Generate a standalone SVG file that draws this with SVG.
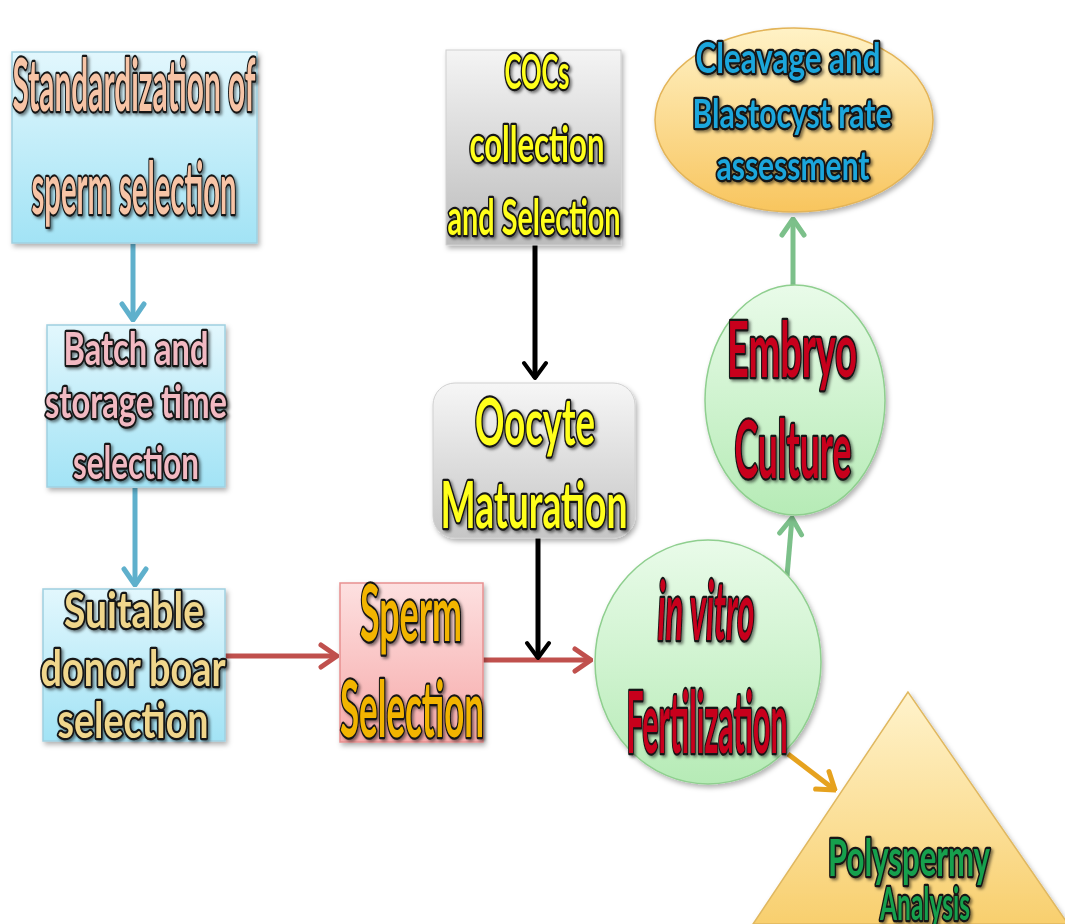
<svg xmlns="http://www.w3.org/2000/svg" width="1065" height="924" viewBox="0 0 1065 924">
<defs>
<linearGradient id="gBlue" x1="0" y1="0" x2="0" y2="1"><stop offset="0" stop-color="#e2f7fd"/><stop offset="1" stop-color="#a2e3f5"/></linearGradient>
<linearGradient id="gPink" x1="0" y1="0" x2="0" y2="1"><stop offset="0" stop-color="#fde0e0"/><stop offset="1" stop-color="#f6a9a9"/></linearGradient>
<linearGradient id="gGrey" x1="0" y1="0" x2="0" y2="1"><stop offset="0" stop-color="#f4f4f4"/><stop offset="1" stop-color="#bcbcbc"/></linearGradient>
<linearGradient id="gGrey2" x1="0" y1="0" x2="0" y2="1"><stop offset="0" stop-color="#f6f6f6"/><stop offset="1" stop-color="#c6c6c6"/></linearGradient>
<linearGradient id="gGreen" x1="0" y1="0" x2="0" y2="1"><stop offset="0" stop-color="#e9fbe9"/><stop offset="1" stop-color="#b6ebb6"/></linearGradient>
<linearGradient id="gGold" x1="0" y1="0" x2="0" y2="1"><stop offset="0" stop-color="#fff2c6"/><stop offset="1" stop-color="#f8c55e"/></linearGradient>
<linearGradient id="gTri" x1="0" y1="0" x2="0" y2="1"><stop offset="0" stop-color="#fff3cc"/><stop offset="1" stop-color="#f8cf6e"/></linearGradient>
<filter id="sh" x="-10%" y="-10%" width="130%" height="130%"><feDropShadow dx="2" dy="3" stdDeviation="2.5" flood-color="#000" flood-opacity="0.3"/></filter>
<filter id="tsh" x="-10%" y="-10%" width="130%" height="130%"><feDropShadow dx="2" dy="2" stdDeviation="1.5" flood-color="#000" flood-opacity="0.5"/></filter>
<marker id="aBlue" viewBox="-19 -14 21 28" refX="0" refY="0" markerWidth="21" markerHeight="28" markerUnits="userSpaceOnUse" orient="auto"><path d="M-16,-11 L0,0 L-16,11" fill="none" stroke="#5fb0cc" stroke-width="5" stroke-linecap="round" stroke-linejoin="round"/></marker>
<marker id="aRed" viewBox="-19 -14 21 28" refX="0" refY="0" markerWidth="21" markerHeight="28" markerUnits="userSpaceOnUse" orient="auto"><path d="M-16,-11 L0,0 L-16,11" fill="none" stroke="#c0504d" stroke-width="5" stroke-linecap="round" stroke-linejoin="round"/></marker>
<marker id="aBlack" viewBox="-19 -14 21 28" refX="0" refY="0" markerWidth="21" markerHeight="28" markerUnits="userSpaceOnUse" orient="auto"><path d="M-15,-11 L0,0 L-15,11" fill="none" stroke="#000" stroke-width="4" stroke-linecap="round" stroke-linejoin="round"/></marker>
<marker id="aGreen" viewBox="-19 -14 21 28" refX="0" refY="0" markerWidth="21" markerHeight="28" markerUnits="userSpaceOnUse" orient="auto"><path d="M-16,-11 L0,0 L-16,11" fill="none" stroke="#7cc08a" stroke-width="5" stroke-linecap="round" stroke-linejoin="round"/></marker>
<marker id="aOrange" viewBox="-19 -14 21 28" refX="0" refY="0" markerWidth="21" markerHeight="28" markerUnits="userSpaceOnUse" orient="auto"><path d="M-16,-11 L0,0 L-16,11" fill="none" stroke="#e6a21e" stroke-width="5" stroke-linecap="round" stroke-linejoin="round"/></marker>
</defs>
<style>
.t{font-family:Lato,"Open Sans","Liberation Sans",sans-serif;font-weight:700;text-anchor:middle;stroke:#141414;stroke-width:4.5;stroke-linejoin:round;paint-order:stroke;filter:url(#tsh)}
.peach{fill:#f7c4a6}.pinkt{fill:#f2b9c2}.khaki{fill:#f0d68c}.orng{fill:#f2b400}.yel{fill:#ffff1a}.red{fill:#c8001e}.blu{fill:#1aa6dc}.grn{fill:#18a04e}
.c{fill:none;stroke-width:5}
</style>
<rect width="1065" height="924" fill="#ffffff"/>
<g id="connectors">
<line class="c" x1="133" y1="244" x2="133" y2="320" stroke="#5fb0cc" marker-end="url(#aBlue)"/>
<line class="c" x1="135" y1="488" x2="135" y2="585" stroke="#5fb0cc" marker-end="url(#aBlue)"/>
<line class="c" x1="225" y1="656" x2="337" y2="656" stroke="#c0504d" marker-end="url(#aRed)"/>
<line class="c" x1="483" y1="660" x2="591" y2="660" stroke="#c0504d" marker-end="url(#aRed)"/>
<line class="c" x1="535" y1="245" x2="535" y2="378" stroke="#000" stroke-width="3.5" marker-end="url(#aBlack)"/>
<line class="c" x1="538" y1="538" x2="538" y2="658" stroke="#000" stroke-width="3.5" marker-end="url(#aBlack)"/>
<line class="c" x1="787" y1="576" x2="792" y2="518" stroke="#7cc08a" marker-end="url(#aGreen)"/>
<line class="c" x1="793" y1="287" x2="793" y2="219" stroke="#7cc08a" marker-end="url(#aGreen)"/>
<line class="c" x1="788" y1="754" x2="835" y2="790" stroke="#e6a21e" marker-end="url(#aOrange)"/>
</g>
<g id="n-standardization">
<rect x="12" y="52" width="245" height="191" fill="url(#gBlue)" stroke="#9fd0e0" stroke-width="1.5" filter="url(#sh)"/>
<text class="t peach" font-size="72"><tspan x="134" y="111" textLength="243" lengthAdjust="spacingAndGlyphs">Standardization of</tspan><tspan x="134" y="214" textLength="205" lengthAdjust="spacingAndGlyphs">sperm selection</tspan></text>
</g>
<g id="n-batch">
<rect x="47" y="325" width="178" height="162" fill="url(#gBlue)" stroke="#9fd0e0" stroke-width="1.5" filter="url(#sh)"/>
<text class="t pinkt" font-size="46"><tspan x="136" y="365" textLength="145" lengthAdjust="spacingAndGlyphs">Batch and</tspan><tspan x="136" y="418" textLength="182" lengthAdjust="spacingAndGlyphs">storage time</tspan><tspan x="136" y="479" textLength="126" lengthAdjust="spacingAndGlyphs">selection</tspan></text>
</g>
<g id="n-donor">
<rect x="43" y="589" width="182" height="152" fill="url(#gBlue)" stroke="#9fd0e0" stroke-width="1.5" filter="url(#sh)"/>
<text class="t khaki" font-size="50"><tspan x="134" y="628" textLength="140" lengthAdjust="spacingAndGlyphs">Suitable</tspan><tspan x="133" y="686" textLength="185" lengthAdjust="spacingAndGlyphs">donor boar</tspan><tspan x="133" y="738" textLength="151" lengthAdjust="spacingAndGlyphs">selection</tspan></text>
</g>
<g id="n-sperm">
<rect x="340" y="583" width="143" height="159" fill="url(#gPink)" stroke="#e79090" stroke-width="1.5" filter="url(#sh)"/>
<text class="t orng" font-size="78"><tspan x="411" y="641" textLength="102" lengthAdjust="spacingAndGlyphs">Sperm</tspan><tspan x="412" y="737" textLength="144" lengthAdjust="spacingAndGlyphs">Selection</tspan></text>
</g>
<g id="n-cocs">
<rect x="446" y="50" width="175" height="195" fill="url(#gGrey)" stroke="#d0d0d0" stroke-width="1" filter="url(#sh)"/>
<text class="t yel" font-size="50"><tspan x="537" y="89" textLength="65" font-size="47" lengthAdjust="spacingAndGlyphs">COCs</tspan><tspan x="537" y="162" textLength="135" lengthAdjust="spacingAndGlyphs">collection</tspan><tspan x="534" y="235" textLength="173" lengthAdjust="spacingAndGlyphs">and Selection</tspan></text>
</g>
<g id="n-oocyte">
<rect x="433" y="383" width="202" height="155" rx="22" fill="url(#gGrey2)" stroke="#d0d0d0" stroke-width="1" filter="url(#sh)"/>
<text class="t yel" font-size="65"><tspan x="535" y="445" textLength="120" lengthAdjust="spacingAndGlyphs">Oocyte</tspan><tspan x="534" y="528" textLength="187" lengthAdjust="spacingAndGlyphs">Maturation</tspan></text>
</g>
<g id="n-cleavage">
<ellipse cx="794" cy="120" rx="139" ry="92" fill="url(#gGold)" stroke="#e3b458" stroke-width="1.5" filter="url(#sh)"/>
<text class="t blu" font-size="42"><tspan x="788" y="73" textLength="185" lengthAdjust="spacingAndGlyphs">Cleavage and</tspan><tspan x="792" y="128" textLength="199" font-size="40" lengthAdjust="spacingAndGlyphs">Blastocyst rate</tspan><tspan x="793" y="180" textLength="153" font-size="40" lengthAdjust="spacingAndGlyphs">assessment</tspan></text>
</g>
<g id="n-embryo">
<ellipse cx="795" cy="400" rx="90" ry="115" fill="url(#gGreen)" stroke="#8fcf8f" stroke-width="1.5" filter="url(#sh)"/>
<text class="t red" font-size="76"><tspan x="792" y="377" textLength="130" lengthAdjust="spacingAndGlyphs">Embryo</tspan><tspan x="793" y="478" textLength="117" font-size="80" lengthAdjust="spacingAndGlyphs">Culture</tspan></text>
</g>
<g id="n-ivf">
<ellipse cx="708" cy="662" rx="113" ry="122" fill="url(#gGreen)" stroke="#8fcf8f" stroke-width="1.5" filter="url(#sh)"/>
<text class="t red" font-size="82"><tspan x="706" y="640" textLength="97" font-style="italic" lengthAdjust="spacingAndGlyphs">in vitro</tspan><tspan x="707" y="753" textLength="161" font-size="86" lengthAdjust="spacingAndGlyphs">Fertilization</tspan></text>
</g>
<g id="n-polyspermy">
<polygon points="908,692 753,924 1068,924" fill="url(#gTri)" stroke="#e0b860" stroke-width="1.5" filter="url(#sh)"/>
<text class="t grn" font-size="51"><tspan x="909" y="876" textLength="162" lengthAdjust="spacingAndGlyphs">Polyspermy</tspan><tspan x="925" y="920" textLength="90" font-size="46" lengthAdjust="spacingAndGlyphs">Analysis</tspan></text>
</g>
</svg>
